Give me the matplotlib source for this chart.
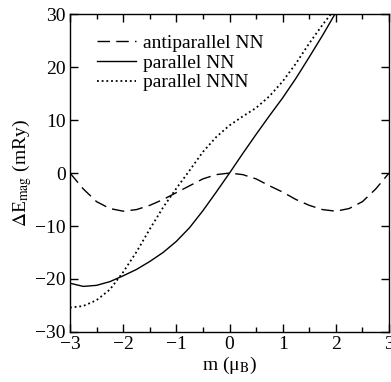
import matplotlib
matplotlib.use("Agg")
import matplotlib.pyplot as plt
from matplotlib.ticker import MultipleLocator

plt.rcParams['font.family'] = ['Liberation Serif', 'DejaVu Serif']
plt.rcParams['mathtext.fontset'] = 'stix'

m = [-3.0, -2.75, -2.5, -2.25, -2.0, -1.75, -1.5, -1.25, -1.0, -0.75, -0.5, -0.25,
     0.0, 0.25, 0.5, 0.75, 1.0, 1.25, 1.5, 1.75, 2.0, 2.25, 2.5, 2.75, 3.0]

antiparallel_nn = [0.0, -3.0, -5.4, -6.7, -7.2, -6.9, -6.1, -5.0, -3.7, -2.4, -1.1, -0.3,
                   0.0, -0.3, -1.1, -2.4, -3.6, -5.0, -6.1, -6.9, -7.2, -6.7, -5.4, -3.0, 0.0]

m_par = m[:21]
parallel_nn = [-20.8, -21.4, -21.2, -20.5, -19.4, -18.2, -16.7, -15.0, -12.9, -10.3, -7.1,
               -3.6, 0.0, 3.7, 7.3, 10.8, 14.2, 17.9, 21.9, 26.0, 30.3]
parallel_nnn = [-25.4, -25.1, -24.0, -22.0, -18.7, -14.9, -10.6, -6.5, -2.9, 0.5, 4.0,
                6.8, 9.0, 10.7, 12.3, 14.5, 17.3, 20.7, 24.5, 28.0, 31.2]

labels = ['antiparallel NN', 'parallel NN', 'parallel NNN']

fig = plt.figure(figsize=(3.91, 3.82), dpi=100)
ax = fig.add_axes([0.179, 0.131, 0.816, 0.832])

ax.plot(m, antiparallel_nn, color='black', lw=1.0, linestyle=(0, (9, 4.5)), label=labels[0])
ax.plot(m_par, parallel_nn, color='black', lw=1.0, linestyle='-', label=labels[1])
ax.plot(m_par, parallel_nnn, color='black', lw=1.3, linestyle=(0, (1, 1.6)), label=labels[2])

ax.set_xlim(-3, 3)
ax.set_ylim(-30, 30)
ax.xaxis.set_major_locator(MultipleLocator(1))
ax.xaxis.set_minor_locator(MultipleLocator(0.5))
ax.yaxis.set_major_locator(MultipleLocator(10))
ax.tick_params(which='both', direction='in', top=True, right=True, labelsize=14, width=1.0)
ax.tick_params(which='major', length=5.5, pad=3)
ax.tick_params(which='minor', length=3.5)
for s in ax.spines.values():
    s.set_linewidth(1.0)

ax.set_xlabel('m (μ$_{\\rm B}$)', fontsize=14, labelpad=1)
ax.set_ylabel('$\\Delta$E$_{\\rm mag}$ (mRy)', fontsize=14, labelpad=1)

ax.legend(loc='upper left', frameon=False, fontsize=14, handlelength=2.0,
          handletextpad=0.37, labelspacing=0.1, borderaxespad=0.0, borderpad=0.4,
          bbox_to_anchor=(0.06, 0.96))

fig.savefig('out.png', dpi=100)
